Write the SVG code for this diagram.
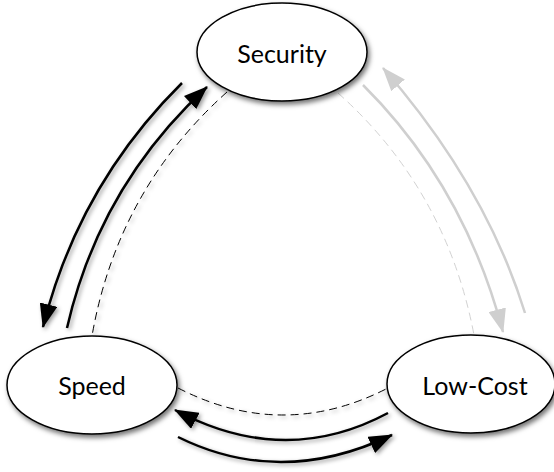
<svg xmlns="http://www.w3.org/2000/svg" width="554" height="472" viewBox="0 0 554 472">
<style>
.node ellipse{fill:#fff;stroke:#000;stroke-width:1.5;filter:url(#sh)}
.node text{font-family:Lato,"Liberation Sans",sans-serif;font-size:25px;fill:#000;text-anchor:middle}
.solid{fill:none;stroke:#000;stroke-width:2.5;marker-end:url(#ah)}
.dash{fill:none;stroke:#000;stroke-width:1;stroke-dasharray:8 5}
.gsolid{fill:none;stroke:#cfcfcf;stroke-width:2.5;marker-end:url(#gah)}
.gdash{fill:none;stroke:#d2d2d2;stroke-width:1;stroke-dasharray:8 5}
</style>
<defs>
<filter id="sh" x="-20%" y="-20%" width="150%" height="160%">
<feDropShadow dx="2" dy="3" stdDeviation="2.5" flood-color="#000" flood-opacity="0.55"/>
</filter>
<filter id="lsh" x="-20%" y="-20%" width="150%" height="150%">
<feDropShadow dx="2" dy="2" stdDeviation="2" flood-color="#000" flood-opacity="0.4"/>
</filter>
<marker id="ah" markerUnits="userSpaceOnUse" viewBox="0 0 24 18" refX="23" refY="9" markerWidth="24" markerHeight="18" orient="auto">
<path d="M0,0 L24,9 L0,18 z" fill="#000"/>
</marker>
<marker id="gah" markerUnits="userSpaceOnUse" viewBox="0 0 24 18" refX="23" refY="9" markerWidth="24" markerHeight="18" orient="auto">
<path d="M0,0 L24,9 L0,18 z" fill="#cfcfcf"/>
</marker>
</defs>
<g id="connectors">
<g filter="url(#lsh)">
<path class="solid" d="M182,83 Q78.5,185.5 43,327"/>
<path class="solid" d="M67,328 Q99.5,186 207,87"/>
<path class="dash" d="M227,92 Q117.5,190 92,336"/>
<path class="dash" d="M178,388 Q283,442 388,388"/>
<path class="solid" d="M388,413 Q284.5,468.5 175,410"/>
<path class="solid" d="M178,437 Q281,488 392,435"/>
</g>
<path class="gsolid" d="M525,313 Q485.5,185.5 383,68"/>
<path class="gsolid" d="M363,85 Q464.5,186 503,332"/>
<path class="gdash" d="M338,93 Q446.5,190 474,335"/>
</g>
<g id="node-security" class="node">
<ellipse cx="282" cy="52" rx="85" ry="49"/>
<text x="282" y="63">Security</text>
</g>
<g id="node-speed" class="node">
<ellipse cx="92" cy="385" rx="85" ry="49"/>
<text x="92" y="395">Speed</text>
</g>
<g id="node-lowcost" class="node">
<ellipse cx="471" cy="384" rx="84" ry="49"/>
<text x="475" y="395">Low-Cost</text>
</g>
</svg>
